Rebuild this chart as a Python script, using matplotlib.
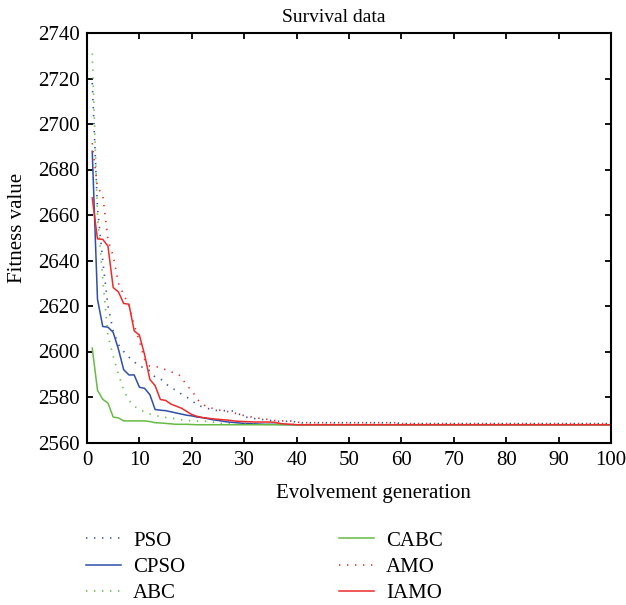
import matplotlib
matplotlib.use("Agg")
import matplotlib.pyplot as plt

plt.rcParams['font.family'] = ['Liberation Serif', 'DejaVu Serif']

generations = list(range(1, 101))

pso = [2718, 2663, 2640, 2620, 2609, 2603, 2600, 2597.5, 2595.5, 2593.5,
       2592.8, 2591.5, 2588.7, 2588, 2586, 2584, 2583, 2581.3, 2580, 2578.5,
       2576.5, 2575.7, 2575, 2574.3, 2574, 2574, 2574, 2573.8, 2572.5, 2571.5,
       2570.7, 2570.5, 2570.2, 2570, 2569.7, 2569.3, 2569.3, 2569.3, 2569.3, 2569] \
      + [2568.7] * 19 + [2568.3] * 41

cpso = [2688, 2623, 2611, 2610.7, 2608.4, 2601, 2592, 2589.7, 2589.7, 2584.3,
        2583.8, 2581, 2574.5, 2574.2, 2574, 2573.5, 2573, 2572.5, 2572, 2571.7,
        2571.2, 2570.9, 2570.5, 2570, 2569.7, 2569.3, 2569, 2568.8, 2568.6, 2568.4,
        2568.3, 2568.2, 2568.1, 2568, 2568, 2568, 2567.9, 2567.9, 2567.8, 2567.8] \
       + [2567.8] * 60

abc = [2731, 2660, 2632, 2607, 2598, 2590, 2583, 2578.5, 2576, 2574.5,
       2573.5, 2572.5, 2572, 2571.3, 2571, 2570.7, 2570.5, 2570, 2569.7, 2569.5,
       2569.4, 2569.4, 2569.3, 2569, 2568.5, 2568.3, 2568.2, 2568.1, 2568, 2568] \
      + [2568] * 70

cabc = [2601.5, 2583, 2579, 2577.3, 2571.2, 2570.8, 2569.5, 2569.5, 2569.5, 2569.5,
        2569.5, 2569.2, 2568.7, 2568.6, 2568.4, 2568.2, 2568, 2568, 2568, 2567.9] \
       + [2567.8] * 80

amo = [2691.6, 2672, 2669, 2649, 2642, 2630, 2625, 2620.3, 2611.5, 2604.5,
       2596.5, 2593.5, 2593.4, 2593, 2592, 2591, 2590.5, 2589, 2585, 2583,
       2579, 2577, 2575.5, 2575, 2574.3, 2574, 2573.5, 2573, 2572.5, 2571.8,
       2571.4, 2571, 2570.6, 2570.3, 2570, 2569.6, 2569.5, 2569.5, 2569.4, 2569] \
      + [2568.7] * 19 + [2568.3] * 41

iamo = [2667.5, 2649.5, 2649.3, 2646.3, 2628.1, 2626.2, 2621.1, 2620.8, 2609.1, 2607.2,
        2598.5, 2587.7, 2585, 2578.9, 2578.5, 2576.9, 2576, 2575.1, 2573.7, 2572.3,
        2571.5, 2571, 2570.7, 2570.4, 2570.2, 2570, 2569.8, 2569.5, 2569.3, 2569.2,
        2569.1, 2569, 2569, 2569, 2569, 2568.8, 2568.3, 2568.1, 2568, 2567.8] \
       + [2567.8] * 60

labels = ['PSO', 'CPSO', 'ABC', 'CABC', 'AMO', 'IAMO']
x_ticks = list(range(0, 101, 10))
y_ticks = list(range(2560, 2741, 20))

blue = '#2f4fa8'
green = '#66bb44'
red = '#ee2a2a'
dot = (0, (0.8, 4.0))

styles = [
    dict(color=blue, linestyle=dot, linewidth=1.2),
    dict(color=blue, linestyle='-', linewidth=1.1),
    dict(color=green, linestyle=dot, linewidth=1.2),
    dict(color=green, linestyle='-', linewidth=1.1),
    dict(color=red, linestyle=dot, linewidth=1.2),
    dict(color=red, linestyle='-', linewidth=1.1),
]

fig = plt.figure(figsize=(6.26, 6.05), dpi=100)
W, H = 626, 605
left, right, top, bottom = 87, 611, 33, 442.5
ax = fig.add_axes([left / W, 1 - bottom / H, (right - left) / W, (bottom - top) / H])

series = [pso, cpso, abc, cabc, amo, iamo]
handles = []
for data, lab, st in zip(series, labels, styles):
    h, = ax.plot(generations, data, label=lab, **st)
    handles.append(h)

ax.set_xlim(0, 100)
ax.set_ylim(2560, 2740)
ax.set_xticks(x_ticks)
ax.set_yticks(y_ticks)
ax.tick_params(direction='in', length=4, width=1.3, top=True, right=True,
               labelsize=15, colors='black')
ax.tick_params(axis='x', pad=6)
ax.tick_params(axis='y', pad=5)
for sp in ax.spines.values():
    sp.set_linewidth(1.5)

ax.set_title('Survival data', fontsize=14, pad=8, x=(333.5 - left) / (right - left))
ax.set_xlabel('Evolvement generation', fontsize=15, labelpad=7)
ax.xaxis.set_label_coords((373.5 - left) / (right - left), -0.102)
ax.set_ylabel('Fitness value', fontsize=15)
ax.yaxis.set_label_coords((27 - left) / (right - left), (bottom - 228) / (bottom - top))

leg_kw = dict(frameon=False, fontsize=15, handlelength=1.7, handletextpad=0.55,
              labelspacing=0.33, borderpad=0, borderaxespad=0, loc='upper left')
leg1 = fig.legend(handles[:3], labels[:3], bbox_to_anchor=(86 / W, 1 - 531 / H), **leg_kw)
leg2 = fig.legend(handles[3:], labels[3:], bbox_to_anchor=(339 / W, 1 - 531 / H), **leg_kw)

fig.savefig('out.png', dpi=100)
